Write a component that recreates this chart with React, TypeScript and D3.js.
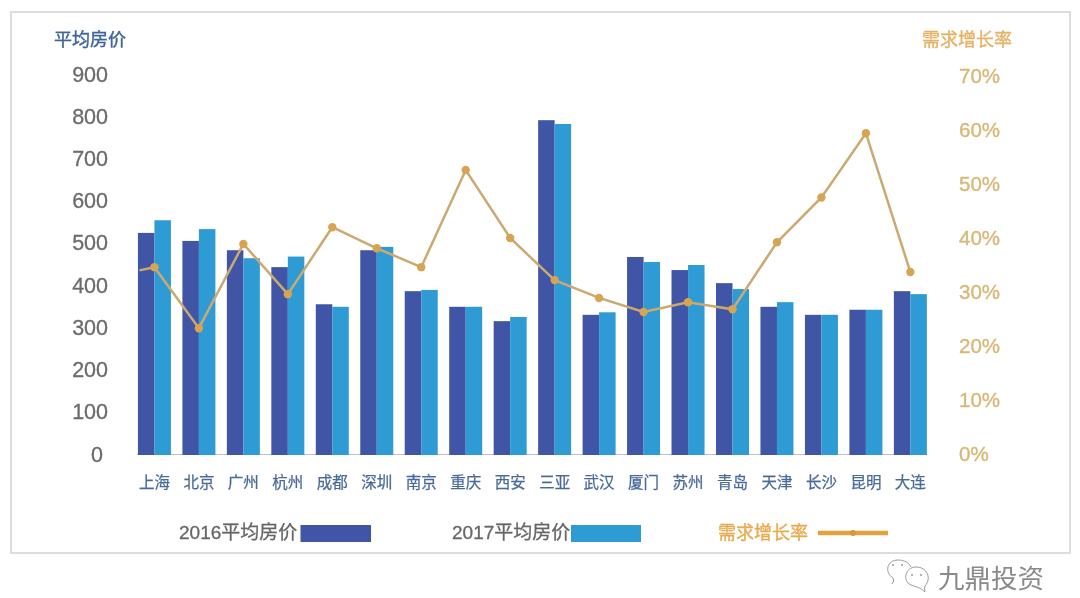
import React from "react";
import * as d3 from "d3";

const cities = ["上海","北京","广州","杭州","成都","深圳","南京","重庆","西安","三亚","武汉","厦门","苏州","青岛","天津","长沙","昆明","大连"];
const price2016 = [526,507,485,445,357,485,388,351,317,793,332,469,438,407,351,332,344,388];
const price2017 = [556,535,466,470,351,493,391,351,327,784,338,457,450,393,362,332,344,381];
const growth = [34.6,23.3,38.9,29.6,42,38.1,34.6,52.6,40,32.2,28.9,26.3,28.1,26.8,39.2,47.5,59.4,33.7];
const growthLeadIn = 34.0;
const priceTicks = [0,100,200,300,400,500,600,700,800,900];
const growthTicks = [0,10,20,30,40,50,60,70];

const DARK = "#3F55A5";
const LIGHT = "#2E9BD5";
const LINE = "#CBA96F";
const MARK = "#D6A452";
const FONT = "'Liberation Sans','Noto Sans CJK SC',sans-serif";

export default function App() {
  const x = d3.scaleBand<string>().domain(cities).range([132.2, 932.6]).paddingInner(0.258).paddingOuter(0.129);
  const yL = d3.scaleLinear().domain([0, 900]).range([455, 75]);
  const yR = d3.scaleLinear().domain([0, 70]).range([454, 76]);
  const bw = x.bandwidth();
  const cx = (c: string) => (x(c) as number) + bw / 2;
  const pts: [number, number][] = [
    [cx(cities[0]) - 15, yR(growthLeadIn)],
    ...cities.map((c, i) => [cx(c), yR(growth[i])] as [number, number]),
  ];
  const path = d3.line()(pts) as string;
  return (
    <svg width={1080} height={598} style={{ position: "absolute", left: 0, top: 0, fontFamily: FONT }}>
      <defs>
        <filter id="soft" x="-2%" y="-2%" width="104%" height="104%">
          <feGaussianBlur stdDeviation="0.5" />
        </filter>
      </defs>
      <rect width={1080} height={598} fill="#fff" />
      <g filter="url(#soft)">
        <rect x={11} y={12} width={1059} height={541} fill="#fff" stroke="#DCDDE0" strokeWidth={2} />
        <text x={54} y={46} fontSize={18} fill="#3F6596" stroke="#3F6596" strokeWidth={0.4}>平均房价</text>
        <text x={922} y={46} fontSize={18} fill="#E6B266" stroke="#E6B266" strokeWidth={0.4}>需求增长率</text>
        {priceTicks.map((t) => (
          <text key={t} x={t === 0 ? 103 : 108} y={yL(t) + 6.5} textAnchor="end" fontSize={21.5} fill="#6B6B6B" stroke="#6B6B6B" strokeWidth={0.3}>{t}</text>
        ))}
        {growthTicks.map((t) => (
          <text key={t} x={959} y={yR(t) + 7} fontSize={20.5} fill="#D9B878" stroke="#D9B878" strokeWidth={0.4}>{t}%</text>
        ))}
        <line x1={137} x2={927} y1={454.5} y2={454.5} stroke="#B9C0D0" strokeWidth={1} />
        {cities.map((c, i) => (
          <g key={c}>
            <rect x={x(c)} y={yL(price2016[i])} width={bw / 2} height={yL(0) - yL(price2016[i])} fill={DARK} />
            <rect x={(x(c) as number) + bw / 2} y={yL(price2017[i])} width={bw / 2} height={yL(0) - yL(price2017[i])} fill={LIGHT} />
            <text x={cx(c)} y={488} textAnchor="middle" fontSize={15.5} fill="#4A6A98" stroke="#4A6A98" strokeWidth={0.25}>{c}</text>
          </g>
        ))}
        <path d={path} fill="none" stroke={LINE} strokeWidth={2.5} />
        {cities.map((c, i) => (
          <circle key={c} cx={cx(c)} cy={yR(growth[i])} r={4.2} fill={MARK} />
        ))}
        <text x={179} y={539} fontSize={19} fill="#666" stroke="#666" strokeWidth={0.3}>2016平均房价</text>
        <rect x={300.5} y={525} width={70.5} height={17} fill={DARK} />
        <text x={452} y={539} fontSize={19} fill="#666" stroke="#666" strokeWidth={0.3}>2017平均房价</text>
        <rect x={571} y={525} width={70} height={17} fill={LIGHT} />
        <text x={718} y={539} fontSize={18} fill="#E8AB4F" stroke="#E8AB4F" strokeWidth={0.4}>需求增长率</text>
        <line x1={818} x2={888} y1={533} y2={533} stroke="#E2A23F" strokeWidth={4.5} />
        <circle cx={853} cy={533} r={3} fill="#D6983A" />
        <g fill="none" stroke="#9A9A9A" strokeWidth={1}>
          <path d="M892 584 Q895 581 893 578 C884 572 887 560 898 560 C905 560 909 563 911 567" />
          <path d="M925 592 Q924 588 925 586 C932 578 927 567 916 567 C905 567 902 581 911 585 C916 587 920 587 925 592" />
        </g>
        <g fill="#9A9A9A">
          <circle cx={893} cy={565} r={1} />
          <circle cx={902} cy={565} r={1} />
          <circle cx={912} cy={575} r={1} />
          <circle cx={921} cy={575} r={1} />
        </g>
        <text x={938} y={588} fontSize={26.5} fill="#8A8A8A">九鼎投资</text>
      </g>
    </svg>
  );
}
